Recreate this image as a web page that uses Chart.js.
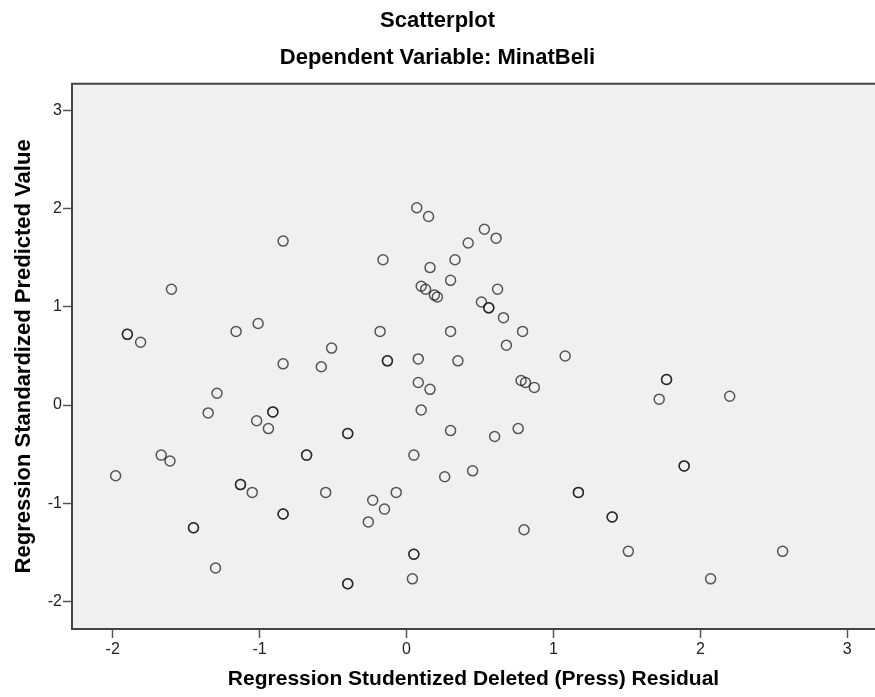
<!DOCTYPE html>
<html>
<head>
<meta charset="utf-8">
<script src="https://cdn.jsdelivr.net/npm/chart.js@4.4.1/dist/chart.umd.min.js"></script>
<style>
  html, body { margin: 0; padding: 0; background: #fff; }
  #wrap { width: 875px; height: 697px; }
</style>
</head>
<body>
<div id="wrap"><canvas id="scatter" width="875" height="697"></canvas></div>
<script>
// residual (x) vs predicted value (y)
// repeated pairs are cases that sit on top of each other (darker rings)
const residuals = [
  -1.98, -1.90, -1.90, -1.81, -1.67, -1.61, -1.60, -1.45, -1.45, -1.35,
  -1.30, -1.29, -1.16, -1.13, -1.13, -1.05, -1.02, -1.01, -0.94, -0.91,
  -0.91, -0.84, -0.84, -0.84, -0.84, -0.68, -0.68, -0.58, -0.55, -0.51,
  -0.40, -0.40, -0.40, -0.40, -0.26, -0.23, -0.18, -0.16, -0.15, -0.13,
  -0.13, -0.07, 0.04, 0.05, 0.05, 0.05, 0.07, 0.08, 0.08, 0.10,
  0.10, 0.13, 0.15, 0.16, 0.16, 0.19, 0.21, 0.26, 0.30, 0.30,
  0.30, 0.33, 0.35, 0.42, 0.45, 0.51, 0.53, 0.56, 0.56, 0.60,
  0.61, 0.62, 0.66, 0.68, 0.76, 0.78, 0.79, 0.80, 0.81, 0.87,
  1.08, 1.17, 1.17, 1.40, 1.40, 1.51, 1.72, 1.77, 1.77, 1.89,
  1.89, 2.07, 2.20, 2.56
];
const predicted = [
  -0.72, 0.72, 0.72, 0.64, -0.51, -0.57, 1.18, -1.25, -1.25, -0.08,
  -1.66, 0.12, 0.75, -0.81, -0.81, -0.89, -0.16, 0.83, -0.24, -0.07,
  -0.07, 0.42, 1.67, -1.11, -1.11, -0.51, -0.51, 0.39, -0.89, 0.58,
  -0.29, -0.29, -1.82, -1.82, -1.19, -0.97, 0.75, 1.48, -1.06, 0.45,
  0.45, -0.89, -1.77, -1.52, -1.52, -0.51, 2.01, 0.23, 0.47, -0.05,
  1.21, 1.18, 1.92, 0.16, 1.40, 1.12, 1.10, -0.73, 1.27, -0.26,
  0.75, 1.48, 0.45, 1.65, -0.67, 1.05, 1.79, 0.99, 0.99, -0.32,
  1.70, 1.18, 0.89, 0.61, -0.24, 0.25, 0.75, -1.27, 0.23, 0.18,
  0.50, -0.89, -0.89, -1.14, -1.14, -1.49, 0.06, 0.26, 0.26, -0.62,
  -0.62, -1.77, 0.09, -1.49
];
const xTicks = [-2, -1, 0, 1, 2, 3];
const yTicks = [-2, -1, 0, 1, 2, 3];

const points = residuals.map((r, i) => ({ x: r, y: predicted[i] }));

const fontFam = "'Liberation Sans', Arial, sans-serif";

// grey plot background + frame (left, top, bottom like SPSS)
const plotFrame = {
  id: 'plotFrame',
  beforeDatasetsDraw(chart) {
    const { ctx, chartArea: a } = chart;
    ctx.save();
    ctx.fillStyle = '#f0f0f0';
    ctx.fillRect(a.left, a.top, a.right - a.left, a.bottom - a.top);
    ctx.strokeStyle = '#444';
    ctx.lineWidth = 2;
    ctx.beginPath();
    ctx.moveTo(a.right + 2, a.top);
    ctx.lineTo(a.left, a.top);
    ctx.lineTo(a.left, a.bottom);
    ctx.lineTo(a.right + 2, a.bottom);
    ctx.stroke();
    ctx.restore();
  }
};

const ctx = document.getElementById('scatter').getContext('2d');
const chart = new Chart(ctx, {
  type: 'scatter',
  data: {
    datasets: [{
      data: points,
      pointStyle: 'circle',
      pointRadius: 5,
      pointHoverRadius: 5,
      borderWidth: 1.5,
      borderColor: 'rgba(25,25,25,0.72)',
      backgroundColor: 'rgba(0,0,0,0)'
    }]
  },
  options: {
    responsive: false,
    animation: false,
    layout: { padding: 0, autoPadding: false },
    plugins: {
      legend: { display: false },
      tooltip: { enabled: false },
      title: {
        display: true,
        text: 'Scatterplot',
        color: '#000',
        font: { family: fontFam, size: 22, weight: 'bold' },
        padding: { top: 8, bottom: 10 }
      },
      subtitle: {
        display: true,
        text: 'Dependent Variable: MinatBeli',
        color: '#000',
        font: { family: fontFam, size: 22, weight: 'bold' },
        padding: { top: 0, bottom: 13 }
      }
    },
    scales: {
      x: {
        type: 'linear',
        min: -2.277,
        max: 3.189,
        afterBuildTicks: s => { s.ticks = xTicks.map(v => ({ value: v })); },
        afterFit: s => { s.height = 68; },
        grid: { drawOnChartArea: false, drawTicks: true, tickLength: 9, color: '#555', tickWidth: 1.5 },
        border: { display: false },
        ticks: { color: '#222', font: { family: fontFam, size: 16 }, padding: 2, maxRotation: 0 },
        title: {
          display: true,
          text: 'Regression Studentized Deleted (Press) Residual',
          color: '#000',
          font: { family: fontFam, size: 21, weight: 'bold' },
          padding: { top: 0, bottom: 5 }
        }
      },
      y: {
        type: 'linear',
        min: -2.281,
        max: 3.272,
        afterBuildTicks: s => { s.ticks = yTicks.map(v => ({ value: v })); },
        afterFit: s => { s.width = 72; },
        grid: { drawOnChartArea: false, drawTicks: true, tickLength: 9, color: '#555', tickWidth: 1.5 },
        border: { display: false },
        ticks: { color: '#222', font: { family: fontFam, size: 16 }, padding: 1 },
        title: {
          display: true,
          text: 'Regression Standardized Predicted Value',
          color: '#000',
          font: { family: fontFam, size: 22, weight: 'bold' },
          padding: { top: 11, bottom: 0 }
        }
      }
    }
  },
  plugins: [plotFrame]
});
</script>
</body>
</html>
